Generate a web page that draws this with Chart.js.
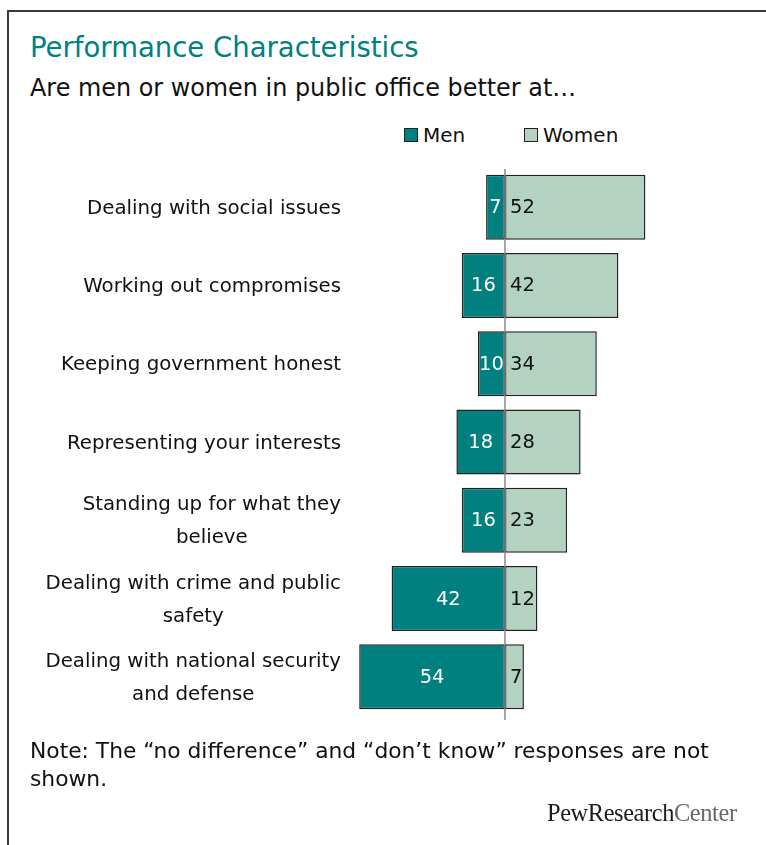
<!DOCTYPE html>
<html>
<head>
<meta charset="utf-8">
<script src="https://cdn.jsdelivr.net/npm/chart.js@4.4.1/dist/chart.umd.min.js"></script>
<style>
  html, body { margin: 0; padding: 0; background: #fff; }
  body { width: 766px; height: 845px; position: relative; overflow: hidden; font-family: "DejaVu Sans", sans-serif; }
  .frame { position: absolute; left: 7px; top: 10px; width: 820px; height: 900px; border-left: 2px solid #3a3a3a; border-top: 2px solid #3a3a3a; }
  #title { position: absolute; left: 30px; top: 31px; font-size: 27.5px; color: #00807e; white-space: nowrap; }
  #subtitle { position: absolute; left: 30px; top: 74px; font-size: 23.9px; color: #111; white-space: nowrap; }
  .legend { position: absolute; top: 123px; font-size: 20px; color: #111; white-space: nowrap; display: flex; align-items: center; }
  .legend i { display: inline-block; width: 12px; height: 12px; border: 1px solid #222; margin-right: 5px; }
  #note { position: absolute; left: 30px; top: 737px; width: 700px; font-size: 21.8px; line-height: 28px; color: #111; }
  #logo { position: absolute; left: 547px; top: 799px; font-family: "Liberation Serif", serif; font-size: 24.4px; color: #1a1a1a; white-space: nowrap; letter-spacing: -0.4px; }
  #logo span { color: #666; }
  canvas { position: absolute; left: 0; top: 0; }
</style>
</head>
<body>
<div class="frame"></div>
<div id="title">Performance Characteristics</div>
<div id="subtitle">Are men or women in public office better at…</div>
<div class="legend" style="left:404px"><i style="background:#00807e"></i>Men</div>
<div class="legend" style="left:524px"><i style="background:#b3d2c1"></i>Women</div>
<canvas id="chart" width="766" height="845"></canvas>
<div id="note">Note: The “no difference” and “don’t know” responses are not shown.</div>
<div id="logo">PewResearch<span>Center</span></div>
<script>
// Question items, one array of text lines per row
const categories = [
  ["Dealing with social issues"],
  ["Working out compromises"],
  ["Keeping government honest"],
  ["Representing your interests"],
  ["Standing up for what they", "believe"],
  ["Dealing with crime and public", "safety"],
  ["Dealing with national security", "and defense"]
];
// Percent saying each sex is better
const menValues = [7, 16, 10, 18, 16, 42, 54];
const womenValues = [52, 42, 34, 28, 23, 12, 7];

const MEN_COLOR = "#00807e";
const WOMEN_COLOR = "#b3d2c1";
const FONT = '"DejaVu Sans", sans-serif';

// Row labels: block right-aligned to the axis, lines centered within the block
const rowLabels = {
  id: "rowLabels",
  afterDraw(chart) {
    const ctx = chart.ctx;
    const yScale = chart.scales.y;
    const right = 341, lineH = 33;
    ctx.save();
    ctx.font = "19.8px " + FONT;
    ctx.fillStyle = "#111";
    ctx.textBaseline = "middle";
    ctx.textAlign = "center";
    categories.forEach((lines, i) => {
      const cy = yScale.getPixelForValue(i) + 1.5;
      const w = Math.max(...lines.map(l => ctx.measureText(l).width));
      const cx = right - w / 2;
      lines.forEach((l, k) => ctx.fillText(l, cx, cy + (k - (lines.length - 1) / 2) * lineH));
    });
    ctx.restore();
  }
};

// Zero divider and value labels inside the bars
const barExtras = {
  id: "barExtras",
  afterDatasetsDraw(chart) {
    const ctx = chart.ctx;
    const x0 = chart.scales.x.getPixelForValue(0);
    const area = chart.chartArea;
    ctx.save();
    ctx.strokeStyle = "#8a8a8a";
    ctx.lineWidth = 1.5;
    ctx.beginPath();
    ctx.moveTo(x0, area.top + 1);
    ctx.lineTo(x0, area.bottom + 4);
    ctx.stroke();

    ctx.font = "19.5px " + FONT;
    ctx.textBaseline = "middle";
    chart.getDatasetMeta(0).data.forEach((bar, i) => {
      ctx.fillStyle = "#fff";
      ctx.textAlign = "center";
      ctx.fillText(String(menValues[i]), (bar.x + bar.base) / 2, bar.y + 1);
    });
    chart.getDatasetMeta(1).data.forEach((bar, i) => {
      ctx.fillStyle = "#111";
      ctx.textAlign = "left";
      ctx.fillText(String(womenValues[i]), bar.base + 5, bar.y + 1);
    });
    ctx.restore();
  }
};

new Chart(document.getElementById("chart"), {
  type: "bar",
  data: {
    labels: categories,
    datasets: [
      {
        label: "Men",
        data: menValues.map(v => -v),
        backgroundColor: MEN_COLOR,
        borderColor: "#222",
        borderWidth: 1.5,
        borderSkipped: false
      },
      {
        label: "Women",
        data: womenValues,
        backgroundColor: WOMEN_COLOR,
        borderColor: "#222",
        borderWidth: 1.5,
        borderSkipped: false
      }
    ]
  },
  options: {
    indexAxis: "y",
    responsive: false,
    animation: false,
    events: [],
    layout: { padding: { left: 343, right: 99, top: 168, bottom: 129 } },
    datasets: { bar: { barPercentage: 0.83, categoryPercentage: 1 } },
    scales: {
      x: { display: false, stacked: true, min: -60, max: 60 },
      y: { display: false, stacked: true }
    },
    plugins: { legend: { display: false }, tooltip: { enabled: false } }
  },
  plugins: [rowLabels, barExtras]
});
</script>
</body>
</html>
